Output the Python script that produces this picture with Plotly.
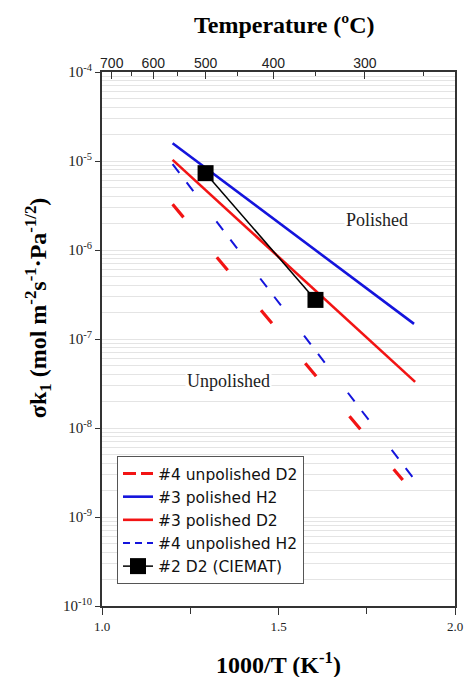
import plotly.graph_objects as go

# Arrhenius-type permeation fits: 1000/T (1/K) vs sigma*k1
fit_x = {
    "#4 unpolished D2": [1.200, 1.852],
    "#3 polished H2": [1.200, 1.884],
    "#3 polished D2": [1.200, 1.887],
    "#4 unpolished H2": [1.200, 1.880],
}
fit_y = {
    "#4 unpolished D2": [3.26e-6, 2.6e-9],
    "#3 polished H2": [1.58e-5, 1.48e-7],
    "#3 polished D2": [1.03e-5, 3.3e-8],
    "#4 unpolished H2": [9.2e-6, 2.8e-9],
}

# CIEMAT points measured at 500 and 350 C
ciemat_T = [500, 350]
ciemat_y = [7.3e-6, 2.75e-7]

# Secondary temperature axis (deg C)
temp_major = [700, 600, 500, 400, 300]
temp_minor = [650, 550, 450, 350, 250]

y_decades = [-10, -9, -8, -7, -6, -5, -4]

RED = "#f21414"
BLUE = "#1414dc"
SERIF = "Liberation Serif, Times New Roman, serif"
SANS = "Liberation Sans, Arial, sans-serif"


def inv_t(tc):
    return 1000.0 / (tc + 273.15)


styles = {
    "#4 unpolished D2": dict(color=RED, width=3.2, dash="17px,52px"),
    "#3 polished H2": dict(color=BLUE, width=2.6),
    "#3 polished D2": dict(color=RED, width=2.6),
    "#4 unpolished H2": dict(color=BLUE, width=2.0, dash="11px,12px,11px,38px"),
}
legend_dash = {
    "#4 unpolished D2": "13px,5px",
    "#4 unpolished H2": "7px,5px",
}

fig = go.Figure()

for rank, name in enumerate(fit_x):
    dashed = name in legend_dash
    fig.add_trace(go.Scatter(
        x=fit_x[name], y=fit_y[name], mode="lines", name=name,
        line=styles[name], showlegend=not dashed, legendrank=rank + 1,
    ))
    if dashed:
        st = dict(styles[name])
        st["dash"] = legend_dash[name]
        fig.add_trace(go.Scatter(
            x=[None], y=[None], mode="lines", name=name, line=st,
            legendrank=rank + 1,
        ))

fig.add_trace(go.Scatter(
    x=[inv_t(t) for t in ciemat_T], y=ciemat_y, mode="lines+markers",
    name="#2 D2 (CIEMAT)", legendrank=5,
    line=dict(color="black", width=1.5),
    marker=dict(symbol="square", size=16, color="black"),
))

# invisible trace keeping the top temperature axis alive
fig.add_trace(go.Scatter(x=[1.0, 2.0], y=[1e-7, 1e-7], xaxis="x2", mode="lines",
                         line=dict(width=0), showlegend=False, hoverinfo="skip"))

minor_y = [k * 10.0 ** e for e in y_decades[:-1] for k in range(2, 10)]


def note(text, x, y, size, **kw):
    return dict(text=text, xref="paper", yref="paper", x=x, y=y,
                xanchor="center", yanchor="middle", showarrow=False,
                font=dict(family=SERIF, size=size, color=kw.pop("color", "black")), **kw)


fig.update_layout(
    width=464, height=677,
    margin=dict(l=102, r=9, t=72, b=71, autoexpand=False),
    paper_bgcolor="white", plot_bgcolor="white",
    showlegend=True,
    legend=dict(
        x=0.0425, y=0.281, xanchor="left", yanchor="top",
        bgcolor="white", bordercolor="#555555", borderwidth=1,
        font=dict(family="DejaVu Sans, Verdana, sans-serif", size=15.5, color="#111111"),
        tracegroupgap=0, itemsizing="trace",
    ),
    xaxis=dict(
        range=[1.0, 2.0], tickvals=[1.0, 1.5, 2.0], ticktext=["1.0", "1.5", "2.0"],
        ticks="outside", ticklen=7, tickwidth=1.3, tickcolor="#333333",
        minor=dict(tickvals=[1.25, 1.75], ticks="outside", ticklen=6,
                   tickwidth=1.3, tickcolor="#333333"),
        showline=True, linecolor="#333333", linewidth=2, mirror=True,
        showgrid=False, zeroline=False, automargin=False,
        tickfont=dict(family=SERIF, size=13, color="#222222"),
    ),
    xaxis2=dict(
        overlaying="x", side="top", range=[1.0, 2.0], anchor="y",
        tickvals=[inv_t(t) for t in temp_major], ticktext=[str(t) for t in temp_major],
        ticks="inside", ticklen=7, tickwidth=1.3, tickcolor="#333333",
        minor=dict(tickvals=[inv_t(t) for t in temp_minor], ticks="inside",
                   ticklen=4, tickwidth=1.3, tickcolor="#333333"),
        showline=False, showgrid=False, zeroline=False, automargin=False,
        tickfont=dict(family=SANS, size=14, color="#222222"),
    ),
    yaxis=dict(
        type="log", range=[-10, -4],
        tickvals=[10.0 ** e for e in y_decades],
        ticktext=["10<sup>%d</sup>" % e for e in y_decades],
        ticks="outside", ticklen=5, tickwidth=1.3, tickcolor="#333333",
        showline=True, linecolor="#333333", linewidth=2, mirror=True,
        showgrid=True, gridcolor="#e4e4e4", gridwidth=1,
        minor=dict(tickvals=minor_y, showgrid=True, gridcolor="#e4e4e4",
                   gridwidth=1, ticks=""),
        zeroline=False, automargin=False,
        tickfont=dict(family=SERIF, size=15, color="#222222"),
    ),
    annotations=[
        note("<b>Temperature (ºC)</b>", 0.518, 1.088, 24),
        note("<b>1000/T (K<sup>-1</sup>)</b>", 0.4986, -0.107, 24),
        note("<b>σk<sub>1</sub> (mol m<sup>-2</sup>s<sup>-1</sup>·Pa<sup>-1/2</sup>)</b>",
             -0.181, 0.558, 24, textangle=-90),
        note("Polished", 0.779, 0.723, 18, bgcolor="white", color="#222222"),
        note("Unpolished", 0.357, 0.421, 18, bgcolor="white", color="#222222"),
    ],
)

fig.write_html("out.html")
